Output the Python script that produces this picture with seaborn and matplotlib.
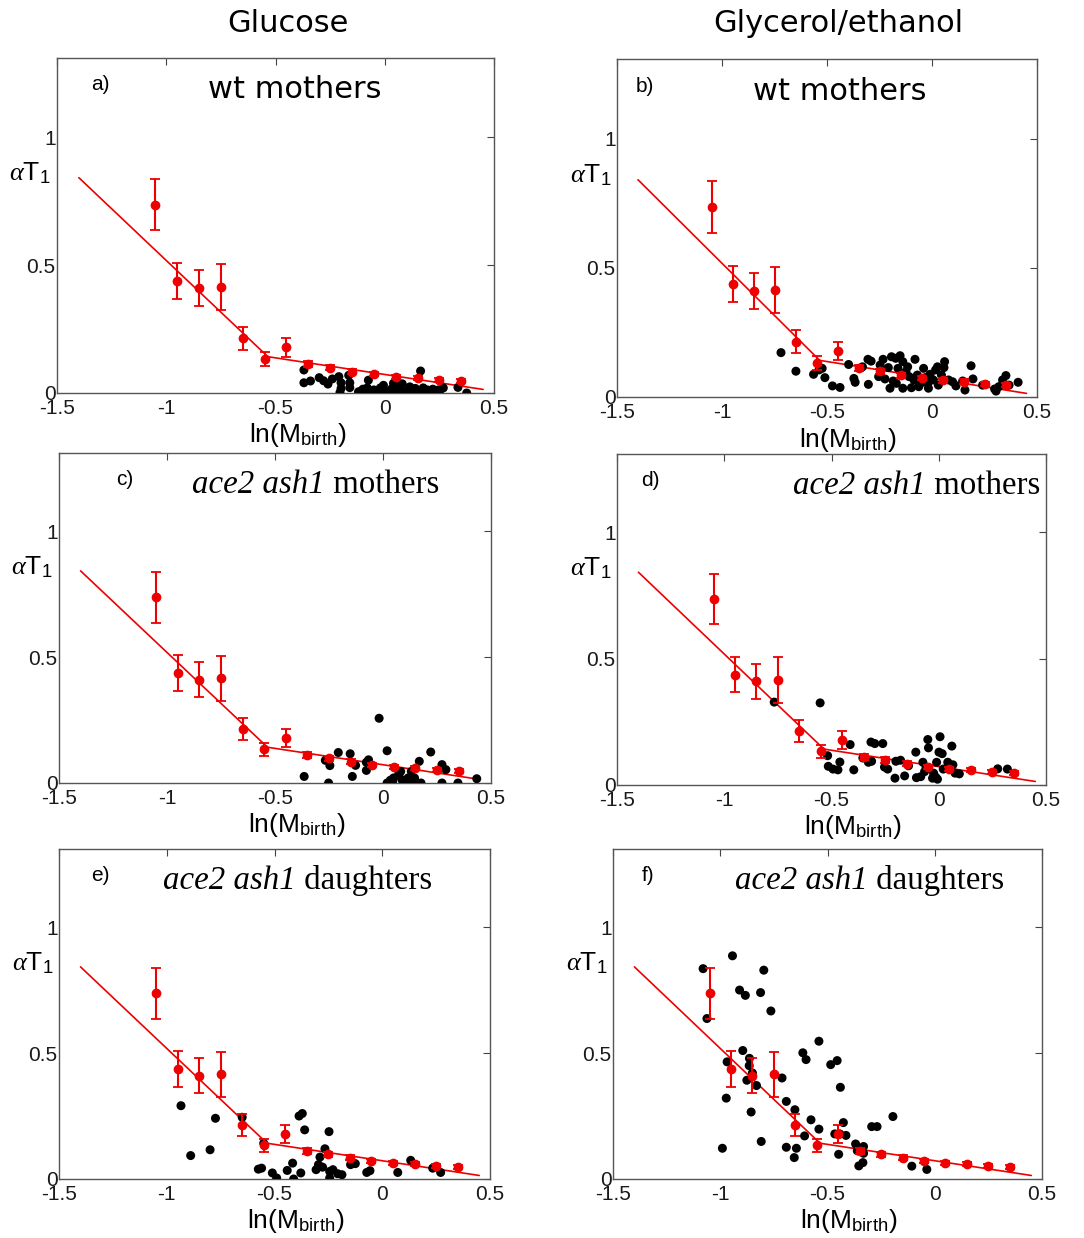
import matplotlib
matplotlib.use("Agg")
import matplotlib.pyplot as plt
import seaborn as sns

# ---- binned means (red) shared by all panels ----
bin_x = [-1.05, -0.95, -0.85, -0.75, -0.65, -0.55, -0.45, -0.35, -0.25, -0.15, -0.05, 0.05, 0.15, 0.25, 0.35]
bin_mean = [0.737, 0.437, 0.41, 0.415, 0.214, 0.133, 0.178, 0.112, 0.099, 0.084, 0.073, 0.064, 0.06, 0.051, 0.047]
bin_err = [0.1, 0.07, 0.07, 0.09, 0.045, 0.027, 0.036, 0.012, 0.01, 0.01, 0.008, 0.008, 0.008, 0.008, 0.008]

# ---- piecewise linear fit ----
fit_x = [-1.4, -0.535, 0.45]
fit_y = [0.842, 0.142, 0.014]

# ---- individual cells ----
a_x = [-0.37, -0.37, -0.34, -0.30, -0.28, -0.26, -0.24, -0.21, -0.20, -0.20, -0.205, -0.165, -0.16, -0.16,
       -0.075, -0.006, 0.04, 0.08, 0.115, 0.164, 0.176, 0.245, 0.268, 0.335, 0.375,
       -0.12, -0.10, -0.09, -0.08, -0.06, -0.05, -0.03, -0.02, 0.0, 0.01, 0.03, 0.05, 0.06, 0.08,
       0.09, 0.11, 0.13, 0.14, 0.16, 0.18, 0.195, 0.21, 0.22, 0.25]
a_y = [0.09, 0.04, 0.047, 0.06, 0.048, 0.035, 0.055, 0.064, 0.04, 0.018, 0.002, 0.069, 0.04, 0.021,
       0.05, 0.03, 0.038, 0.036, 0.024, 0.086, 0.02, 0.012, 0.02, 0.022, 0.0,
       0.005, 0.015, 0.0, 0.02, 0.005, 0.012, 0.0, 0.02, 0.008, 0.0, 0.015, 0.003, 0.02, 0.008,
       0.0, 0.012, 0.003, 0.018, 0.006, 0.0, 0.012, 0.004, 0.015, 0.005]

b_x = [-0.719, -0.648, -0.564, -0.538, -0.523, -0.51, -0.474, -0.438, -0.397, -0.372, -0.366, -0.331,
       -0.303, -0.305, -0.29, -0.247, -0.233, -0.254, -0.224, -0.208, -0.193, -0.185, -0.173, -0.162,
       -0.152, -0.139, -0.139, -0.124, -0.116, -0.109, -0.098, -0.081, -0.07, -0.063, -0.04, -0.032,
       -0.02, -0.017, -0.009, 0.006, 0.017, 0.026, 0.045, 0.057, 0.06, 0.079, 0.098, 0.114, 0.146,
       0.157, 0.186, 0.195, 0.241, 0.298, 0.318, 0.336, 0.352, 0.367, 0.41, -0.024, -0.047, -0.086,
       -0.20, -0.17, 0.03, 0.305]
b_y = [0.172, 0.10, 0.088, 0.105, 0.111, 0.075, 0.043, 0.037, 0.126, 0.072, 0.057, 0.117,
       0.049, 0.146, 0.139, 0.124, 0.146, 0.079, 0.07, 0.114, 0.156, 0.062, 0.15, 0.111,
       0.16, 0.137, 0.034, 0.098, 0.117, 0.079, 0.036, 0.146, 0.085, 0.04, 0.111, 0.075,
       0.053, 0.034, 0.088, 0.066, 0.105, 0.117, 0.085, 0.114, 0.137, 0.066, 0.059, 0.043, 0.062,
       0.027, 0.121, 0.07, 0.046, 0.031, 0.04, 0.066, 0.083, 0.046, 0.057, 0.062, 0.057, 0.066,
       0.034, 0.053, 0.046, 0.023]

c_x = [-0.365, -0.252, -0.267, -0.246, -0.207, -0.152, -0.142, -0.127, -0.077, -0.067, -0.077, -0.018,
       0.019, 0.019, 0.034, 0.049, 0.072, 0.082, 0.094, 0.106, 0.116, 0.131, 0.146, 0.154, 0.168,
       0.176, 0.221, 0.273, 0.291, 0.273, 0.347, 0.434, 0.045, 0.088, 0.14]
c_y = [0.026, 0.0, 0.09, 0.069, 0.121, 0.116, 0.026, 0.07, 0.082, 0.092, 0.05, 0.257,
       0.128, 0.0, 0.011, 0.02, 0.033, 0.046, 0.0, 0.007, 0.02, 0.046, 0.02, 0.0, 0.086,
       0.0, 0.123, 0.073, 0.053, 0.0, 0.0, 0.017, 0.007, 0.013, 0.01]

d_x = [-0.767, -0.553, -0.518, -0.515, -0.493, -0.47, -0.461, -0.413, -0.396, -0.354, -0.328, -0.313,
       -0.316, -0.298, -0.261, -0.253, -0.238, -0.204, -0.2, -0.178, -0.159, -0.141, -0.107, -0.104,
       -0.084, -0.074, -0.066, -0.051, -0.048, -0.029, -0.024, -0.01, -0.006, 0.006, 0.001, 0.016,
       0.021, 0.042, 0.051, 0.061, 0.066, 0.076, 0.096, 0.275, 0.32, -0.059, -0.014]
d_y = [0.328, 0.325, 0.116, 0.074, 0.063, 0.06, 0.091, 0.16, 0.06, 0.107, 0.09, 0.094,
       0.17, 0.164, 0.164, 0.071, 0.063, 0.027, 0.094, 0.098, 0.036, 0.076, 0.13, 0.029,
       0.033, 0.09, 0.053, 0.18, 0.147, 0.027, 0.047, 0.09, 0.023, 0.191, 0.13, 0.124,
       0.063, 0.09, 0.063, 0.154, 0.08, 0.047, 0.044, 0.064, 0.063, 0.071, 0.031]

e_x = [-0.934, -0.889, -0.799, -0.774, -0.65, -0.55, -0.575, -0.56, -0.51, -0.49, -0.441, -0.416,
       -0.411, -0.378, -0.386, -0.371, -0.36, -0.307, -0.296, -0.277, -0.289, -0.266, -0.247, -0.244,
       -0.244, -0.229, -0.207, -0.187, -0.147, -0.125, -0.072, -0.057, 0.072, 0.132, 0.234, 0.271]
e_y = [0.291, 0.093, 0.116, 0.241, 0.245, 0.142, 0.039, 0.043, 0.024, 0.004, 0.034, 0.063,
       0.0, 0.024, 0.25, 0.26, 0.195, 0.037, 0.057, 0.047, 0.087, 0.12, 0.188, 0.03,
       0.004, 0.037, 0.021, 0.017, 0.057, 0.061, 0.026, 0.033, 0.026, 0.074, 0.043, 0.026]

f_x = [-1.08, -1.062, -0.943, -0.91, -0.883, -0.812, -0.797, -0.764, -0.968, -0.972, -0.99, -0.895,
       -0.864, -0.865, -0.85, -0.876, -0.831, -0.856, -0.809, -0.712, -0.692, -0.652, -0.692, -0.645,
       -0.655, -0.607, -0.577, -0.54, -0.54, -0.615, -0.6, -0.485, -0.455, -0.44, -0.426, -0.466,
       -0.443, -0.414, -0.448, -0.369, -0.361, -0.332, -0.332, -0.354, -0.335, -0.294, -0.269, -0.195,
       -0.107, -0.037]
f_y = [0.835, 0.637, 0.886, 0.75, 0.729, 0.74, 0.829, 0.667, 0.465, 0.321, 0.122, 0.51,
       0.479, 0.45, 0.421, 0.392, 0.371, 0.266, 0.149, 0.401, 0.308, 0.275, 0.126, 0.122,
       0.085, 0.171, 0.235, 0.198, 0.547, 0.501, 0.474, 0.454, 0.47, 0.364, 0.224, 0.179,
       0.179, 0.173, 0.098, 0.139, 0.112, 0.129, 0.102, 0.052, 0.065, 0.208, 0.208, 0.248,
       0.051, 0.038]

x_ticks = [-1.5, -1, -0.5, 0, 0.5]
x_ticklabels = ["-1.5", "-1", "-0.5", "0", "0.5"]
y_ticks = [0, 0.5, 1]
y_ticklabels = ["0", "0.5", "1"]

col_titles = ["Glucose", "Glycerol/ethanol"]
strain = "ace2 ash1"

RED = "#ee0000"

sns.set_theme(style="white")
plt.rcParams["font.family"] = ["Liberation Sans", "DejaVu Sans"]
plt.rcParams["mathtext.fontset"] = "custom"
plt.rcParams["mathtext.rm"] = "Liberation Sans"
plt.rcParams["mathtext.sf"] = "Liberation Sans"
plt.rcParams["mathtext.it"] = "Liberation Serif:italic"
plt.rcParams["text.color"] = "black"
plt.rcParams["axes.labelcolor"] = "black"

fig = plt.figure(figsize=(10.84, 12.38), dpi=100)

W, H = 1084.0, 1238.0
# left, right, top, bottom in pixels
boxes = {
    "a": (57, 494, 58, 393),
    "b": (617, 1037, 59, 397),
    "c": (59, 491, 453, 783),
    "d": (617, 1046, 454, 785),
    "e": (59, 490, 849, 1179),
    "f": (613, 1042, 849, 1179),
}

# tag, x, y, title (italic part, regular part), title x, tag x
panels = [
    ("a", a_x, a_y, (None, "wt mothers"), 0.545, 0.10),
    ("b", b_x, b_y, (None, "wt mothers"), 0.53, 0.067),
    ("c", c_x, c_y, (strain, "mothers"), 0.308, 0.153),
    ("d", d_x, d_y, (strain, "mothers"), 0.41, 0.077),
    ("e", e_x, e_y, (strain, "daughters"), 0.241, 0.095),
    ("f", f_x, f_y, (strain, "daughters"), 0.284, 0.082),
]

YMAX = 1.31

for tag, px, py, (ital, plain), tx, lx in panels:
    l, r, t, b = boxes[tag]
    ax = fig.add_axes([l / W, 1 - b / H, (r - l) / W, (b - t) / H])

    sns.lineplot(x=fit_x, y=fit_y, ax=ax, color=RED, lw=1.2, sort=False,
                 estimator=None, zorder=2)
    sns.scatterplot(x=px, y=py, ax=ax, color="black", s=42, edgecolor="none",
                    zorder=3)
    ax.errorbar(bin_x, bin_mean, yerr=bin_err, fmt="o", color=RED, ms=6,
                capsize=3.5, elinewidth=1.5, capthick=1.3, zorder=4)

    ax.set_xlim(-1.5, 0.5)
    ax.set_ylim(0, YMAX)
    ax.set_xticks(x_ticks)
    ax.set_xticklabels(x_ticklabels)
    ax.set_yticks(y_ticks)
    ax.set_yticklabels(y_ticklabels)
    ax.tick_params(axis="both", direction="in", top=True, right=True, length=5,
                   width=0.8, color="#444444", labelsize=15, labelcolor="#1a1a1a")
    ax.tick_params(axis="y", pad=1)
    ax.tick_params(axis="x", pad=4)
    for sp in ax.spines.values():
        sp.set_color("#555555")
        sp.set_linewidth(1.0)

    ax.set_xlabel(r"ln(M$_{\mathrm{birth}}$)", fontsize=19, labelpad=0)
    ax.xaxis.set_label_coords(0.55, -0.085)
    ax.set_ylabel(r"$\alpha$T$_{\mathrm{1}}$", fontsize=19, rotation=0,
                  ha="center", va="center")
    ax.yaxis.set_label_coords(-0.062, 0.655)

    ax.text(lx, 1.205 / YMAX, tag + ")", transform=ax.transAxes, fontsize=15,
            ha="center", va="center")
    if ital is None:
        ax.text(tx, 1.185 / YMAX, plain, transform=ax.transAxes, fontsize=22,
                family="DejaVu Sans", ha="center", va="center")
    else:
        t1 = ax.text(tx, 1.125 / YMAX, ital, transform=ax.transAxes, fontsize=23.7,
                     family="Liberation Serif", style="italic",
                     ha="left", va="bottom")
        ax.annotate(" " + plain, xy=(1, 0), xycoords=t1, fontsize=23.7,
                    family="Liberation Serif", ha="left", va="bottom")

fig.text(288 / W, 1 - 24 / H, col_titles[0], fontsize=22, family="DejaVu Sans",
         ha="center", va="center")
fig.text(838 / W, 1 - 24 / H, col_titles[1], fontsize=22, family="DejaVu Sans",
         ha="center", va="center")

fig.savefig("out.png", dpi=100, facecolor="white")
